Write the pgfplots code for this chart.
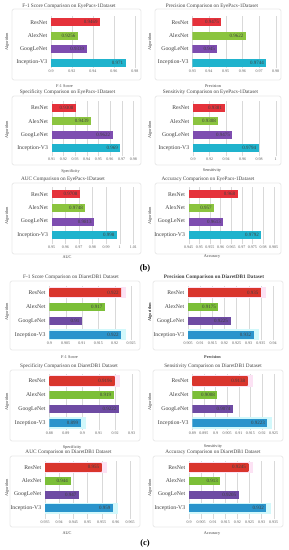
\documentclass[border=0pt]{standalone}
\usepackage{fontspec}
\setmainfont{Liberation Serif}
\usepackage{pgfplots}
\pgfplotsset{compat=1.18}
\definecolor{bRes}{HTML}{E5323B}
\definecolor{bAlex}{HTML}{8BC43F}
\definecolor{bGoog}{HTML}{7E4DB0}
\definecolor{bInc}{HTML}{20B3CD}
\definecolor{cRes}{HTML}{D9352D}
\definecolor{cResD}{HTML}{6E3B22}
\definecolor{cAlex}{HTML}{7CBF38}
\definecolor{cGoog}{HTML}{6E4BA3}
\definecolor{cInc}{HTML}{2A94CC}
\definecolor{gRes}{HTML}{FCE2F4}
\definecolor{gInc}{HTML}{D2F8FB}
\definecolor{txt}{HTML}{404040}
\definecolor{tickc}{HTML}{595959}
\definecolor{boxc}{HTML}{BFBFBF}
\definecolor{gridc}{HTML}{D9D9D9}
\pgfdeclarehorizontalshading{resC}{100bp}{color(0bp)=(cRes); color(78bp)=(cRes); color(86bp)=(cResD); color(100bp)=(cResD)}
\pgfplotsset{
  /pgf/number format/assume math mode=true,
  chart/.style={
    scale only axis, anchor=south west,
    ymax=3.5,
    ytick={0,1,2,3}, yticklabels={Inception-V3,GoogLeNet,AlexNet,ResNet},
    major tick length=0pt,
    axis line style={draw=none},
    xmajorgrids, major grid style={draw=gridc, line width=0.5pt},
    scaled x ticks=false,
    xticklabel style={font=\fontsize{8}{9}\selectfont, text=tickc, /pgf/number format/fixed, /pgf/number format/precision=3},
    yticklabel style={font=\fontsize{11.5}{13}\selectfont, text=txt, xshift=-4pt},
  },
  vb/.style={xbar, bar width=0.6, bar shift=0pt, draw=none, point meta=explicit symbolic,
    nodes near coords, nodes near coords align={anchor=east},
    every node near coord/.append style={font=\fontsize{10}{11}\selectfont, text=txt, xshift=-1.5pt}},
  bR/.style={vb, fill=bRes}, bA/.style={vb, fill=bAlex}, bG/.style={vb, fill=bGoog}, bI/.style={vb, fill=bInc},
  cR/.style={vb, shade, shading=resC}, cA/.style={vb, fill=cAlex}, cG/.style={vb, fill=cGoog}, cI/.style={vb, fill=cInc},
  gl/.style={xbar, bar width=0.8, bar shift=0pt, draw=none},
  gR/.style={gl, fill=gRes}, gI/.style={gl, fill=gInc},
}
\begin{document}
\begin{tikzpicture}
\useasboundingbox (0,0) rectangle (576pt,1100pt);
\tikzset{ttl/.style={font=\fontsize{10.5}{12}\selectfont, text=txt},
  xl/.style={font=\fontsize{8.5}{10}\selectfont, text=txt},
  yl/.style={rotate=90, font=\fontsize{8.5}{10}\selectfont, text=txt},
  bx/.style={draw=boxc, line width=0.6pt, rounded corners=3pt}}
% boxes
\draw[bx] (24pt,1082pt) rectangle (282pt,940pt);
\draw[bx] (310pt,1082pt) rectangle (562pt,940pt);
\draw[bx] (24pt,908pt) rectangle (282pt,770pt);
\draw[bx] (310pt,908pt) rectangle (562pt,770pt);
\draw[bx] (24pt,734pt) rectangle (282pt,592pt);
\draw[bx] (310pt,734pt) rectangle (562pt,592pt);
\draw[bx] (20pt,538pt) rectangle (280pt,400pt);
\draw[bx] (306pt,538pt) rectangle (566pt,400pt);
\draw[bx] (20pt,360pt) rectangle (280pt,218pt);
\draw[bx] (306pt,360pt) rectangle (566pt,218pt);
\draw[bx] (20pt,188pt) rectangle (280pt,46pt);
\draw[bx] (306pt,188pt) rectangle (566pt,46pt);
% titles
\node[ttl] at (138pt,1088pt) {F-1 Score Comparison on EyePacs-1Dataset};
\node[ttl] at (424pt,1088pt) {Precision Comparison on EyePacs-1Dataset};
\node[ttl] at (135pt,916pt) {Specificity Comparison on EyePacs-1Dataset};
\node[ttl] at (421pt,916pt) {Sensitivity Comparison on EyePacs-1Dataset};
\node[ttl] at (126pt,742pt) {AUC Comparison on EyePacs-1Dataset};
\node[ttl] at (416pt,742pt) {Accuracy Comparison on EyePacs-1Dataset};
\node[ttl] at (142pt,546pt) {F-1 Score Comparison on DiaretDB1 Dataset};
\node[ttl, font=\fontsize{10.5}{12}\selectfont\bfseries] at (428pt,546pt) {Precision Comparison on DiaretDB1 Dataset};
\node[ttl] at (138pt,368pt) {Specificity Comparison on DiaretDB1 Dataset};
\node[ttl] at (426pt,368pt) {Sensitivity Comparison on DiaretDB1 Dataset};
\node[ttl] at (137pt,196pt) {AUC Comparison on DiaretDB1 Dataset};
\node[ttl] at (426pt,196pt) {Accuracy Comparison on DiaretDB1 Dataset};
% x labels
\node[xl] at (129pt,928pt) {F-1 Score};
\node[xl] at (426pt,928pt) {Precision};
\node[xl] at (141pt,758pt) {Specificity};
\node[xl] at (424pt,758pt) {Sensitivity};
\node[xl] at (134pt,586pt) {AUC};
\node[xl] at (424pt,586pt) {Accuracy};
\node[xl] at (139pt,386pt) {F-1 Score};
\node[xl, font=\fontsize{8.5}{10}\selectfont\bfseries] at (425pt,386pt) {Precision};
\node[xl] at (144pt,206pt) {Specificity};
\node[xl] at (426pt,206pt) {Sensitivity};
\node[xl] at (134pt,34pt) {AUC};
\node[xl] at (424pt,32pt) {Accuracy};
% y labels
\node[yl] at (14pt,1016pt) {Algorithm};
\node[yl] at (300pt,1016pt) {Algorithm};
\node[yl] at (14pt,840pt) {Algorithm};
\node[yl] at (300pt,840pt) {Algorithm};
\node[yl] at (14pt,668pt) {Algorithm};
\node[yl] at (300pt,668pt) {Algorithm};
\node[yl] at (14pt,476pt) {Algorithm};
\node[yl, font=\fontsize{8.5}{10}\selectfont\bfseries] at (300pt,476pt) {Algorithm};
\node[yl] at (14pt,296pt) {Algorithm};
\node[yl] at (300pt,296pt) {Algorithm};
\node[yl] at (14pt,124pt) {Algorithm};
\node[yl] at (300pt,124pt) {Algorithm};
% panel labels
\node[font=\fontsize{17}{20}\selectfont\bfseries, text=black] at (290pt,564pt) {(b)};
\node[font=\fontsize{17}{20}\selectfont\bfseries, text=black] at (290pt,14pt) {(c)};

% ---------- (b) EyePacs-1 ----------
\begin{axis}[chart, at={(102pt,963pt)}, width=168pt, height=105.9pt, xmin=0.9, xmax=0.98, ymin=-0.43,
  xtick={0.9,0.92,0.94,0.96,0.98}]
\addplot[bR] coordinates {(0.9469,3) [0.9469]};
\addplot[bA] coordinates {(0.9256,2) [0.9256]};
\addplot[bG] coordinates {(0.9339,1) [0.9339]};
\addplot[bI] coordinates {(0.971,0) [0.971]};
\end{axis}
\begin{axis}[chart, at={(384.6pt,963pt)}, width=166.8pt, height=105.9pt, xmin=0.93, xmax=0.98, ymin=-0.43,
  xtick={0.93,0.94,0.95,0.96,0.97,0.98}]
\addplot[bR] coordinates {(0.9475,3) [0.9475]};
\addplot[bA] coordinates {(0.9622,2) [0.9622]};
\addplot[bG] coordinates {(0.945,1) [0.945]};
\addplot[bI] coordinates {(0.9744,0) [0.9744]};
\end{axis}
\begin{axis}[chart, at={(103.4pt,787pt)}, width=163.2pt, height=111.4pt, xmin=0.91, xmax=0.98, ymin=-0.6,
  xtick={0.91,0.92,0.93,0.94,0.95,0.96,0.97,0.98}]
\addplot[bR] coordinates {(0.9308,3) [0.9308]};
\addplot[bA] coordinates {(0.9439,2) [0.9439]};
\addplot[bG] coordinates {(0.9622,1) [0.9622]};
\addplot[bI] coordinates {(0.969,0) [0.969]};
\end{axis}
\begin{axis}[chart, at={(386pt,787pt)}, width=165.4pt, height=111.4pt, xmin=0.9, xmax=1, ymin=-0.6,
  xtick={0.9,0.92,0.94,0.96,0.98,1}]
\addplot[bR] coordinates {(0.9381,3) [0.9381]};
\addplot[bA] coordinates {(0.9308,2) [0.9308]};
\addplot[bG] coordinates {(0.9475,1) [0.9475]};
\addplot[bI] coordinates {(0.9794,0) [0.9794]};
\end{axis}
\begin{axis}[chart, at={(103.4pt,611pt)}, width=163.2pt, height=114pt, xmin=0.95, xmax=1.01, ymin=-0.67,
  xtick={0.95,0.96,0.97,0.98,0.99,1,1.01}]
\addplot[bR] coordinates {(0.9708,3) [0.9708]};
\addplot[bA] coordinates {(0.9748,2) [0.9748]};
\addplot[bG] coordinates {(0.9813,1) [0.9813]};
\addplot[bI] coordinates {(0.998,0) [0.998]};
\end{axis}
\begin{axis}[chart, at={(377.4pt,611pt)}, width=170pt, height=114pt, xmin=0.945, xmax=0.985, ymin=-0.67,
  xtick={0.945,0.95,0.955,0.96,0.965,0.97,0.975,0.98,0.985}]
\addplot[bR] coordinates {(0.968,3) [0.968]};
\addplot[bA] coordinates {(0.957,2) [0.957]};
\addplot[bG] coordinates {(0.9613,1) [0.9613]};
\addplot[bI] coordinates {(0.9792,0) [0.9792]};
\end{axis}

% ---------- (c) DiaretDB1 ----------
\begin{axis}[chart, at={(98.6pt,419pt)}, width=163.4pt, height=109.6pt, xmin=0.9, xmax=0.925, ymin=-0.41,
  xtick={0.9,0.905,0.91,0.915,0.92,0.925}]
\addplot[gR] coordinates {(0.922,3)};
\addplot[gR, xshift=10pt] coordinates {(0.922,3)};
\addplot[gI] coordinates {(0.922,0)};
\addplot[gI, xshift=10pt] coordinates {(0.922,0)};
\addplot[cR] coordinates {(0.922,3) [0.922]};
\addplot[cA] coordinates {(0.917,2) [0.917]};
\addplot[cG] coordinates {(0.91,1) [0.91]};
\addplot[cI] coordinates {(0.922,0) [0.922]};
\end{axis}
\begin{axis}[chart, at={(376pt,419pt)}, width=170pt, height=109.6pt, xmin=0.905, xmax=0.94, ymin=-0.41,
  xtick={0.905,0.91,0.915,0.92,0.925,0.93,0.935,0.94}]
\addplot[gR] coordinates {(0.935,3)};
\addplot[gR, xshift=10pt] coordinates {(0.935,3)};
\addplot[gI] coordinates {(0.932,0)};
\addplot[gI, xshift=10pt] coordinates {(0.932,0)};
\addplot[cR] coordinates {(0.935,3) [0.935]};
\addplot[cA] coordinates {(0.9175,2) [0.9175]};
\addplot[cG] coordinates {(0.9225,1) [0.9225]};
\addplot[cI] coordinates {(0.932,0) [0.932]};
\end{axis}
\begin{axis}[chart, at={(98.6pt,239.6pt)}, width=164.8pt, height=112.4pt, xmin=0.88, xmax=0.93, ymin=-0.51,
  xtick={0.88,0.89,0.9,0.91,0.92,0.93}]
\addplot[gR] coordinates {(0.9196,3)};
\addplot[gR, xshift=10pt] coordinates {(0.9196,3)};
\addplot[gI] coordinates {(0.899,0)};
\addplot[gI, xshift=10pt] coordinates {(0.899,0)};
\addplot[cR] coordinates {(0.9196,3) [0.9196]};
\addplot[cA] coordinates {(0.919,2) [0.919]};
\addplot[cG] coordinates {(0.9222,1) [0.9222]};
\addplot[cI] coordinates {(0.899,0) [0.899]};
\end{axis}
\begin{axis}[chart, at={(384.6pt,239.6pt)}, width=162.8pt, height=112.4pt, xmin=0.89, xmax=0.925, ymin=-0.51,
  xtick={0.89,0.895,0.9,0.905,0.91,0.915,0.92,0.925}]
\addplot[gR] coordinates {(0.9138,3)};
\addplot[gR, xshift=10pt] coordinates {(0.9138,3)};
\addplot[gI] coordinates {(0.9223,0)};
\addplot[gI, xshift=10pt] coordinates {(0.9223,0)};
\addplot[cR] coordinates {(0.9138,3) [0.9138]};
\addplot[cA] coordinates {(0.9008,2) [0.9008]};
\addplot[cG] coordinates {(0.9074,1) [0.9074]};
\addplot[cI] coordinates {(0.9223,0) [0.9223]};
\end{axis}
\begin{axis}[chart, at={(90pt,61.6pt)}, width=170pt, height=117.4pt, xmin=0.935, xmax=0.965, ymin=-0.8,
  xtick={0.935,0.94,0.945,0.95,0.955,0.96,0.965}]
\addplot[gR] coordinates {(0.955,3)};
\addplot[gR, xshift=10pt] coordinates {(0.955,3)};
\addplot[gI] coordinates {(0.959,0)};
\addplot[gI, xshift=10pt] coordinates {(0.959,0)};
\addplot[cR] coordinates {(0.955,3) [0.955]};
\addplot[cA] coordinates {(0.944,2) [0.944]};
\addplot[cG] coordinates {(0.947,1) [0.947]};
\addplot[cI] coordinates {(0.959,0) [0.959]};
\end{axis}
\begin{axis}[chart, at={(378pt,61.6pt)}, width=169.4pt, height=117.4pt, xmin=0.9, xmax=0.935, ymin=-0.8,
  xtick={0.9,0.905,0.91,0.915,0.92,0.925,0.93,0.935}]
\addplot[gR] coordinates {(0.9245,3)};
\addplot[gR, xshift=10pt] coordinates {(0.9245,3)};
\addplot[gI] coordinates {(0.932,0)};
\addplot[gI, xshift=10pt] coordinates {(0.932,0)};
\addplot[cR] coordinates {(0.9245,3) [0.9245]};
\addplot[cA] coordinates {(0.913,2) [0.913]};
\addplot[cG] coordinates {(0.9205,1) [0.9205]};
\addplot[cI] coordinates {(0.932,0) [0.932]};
\end{axis}
\end{tikzpicture}
\end{document}
